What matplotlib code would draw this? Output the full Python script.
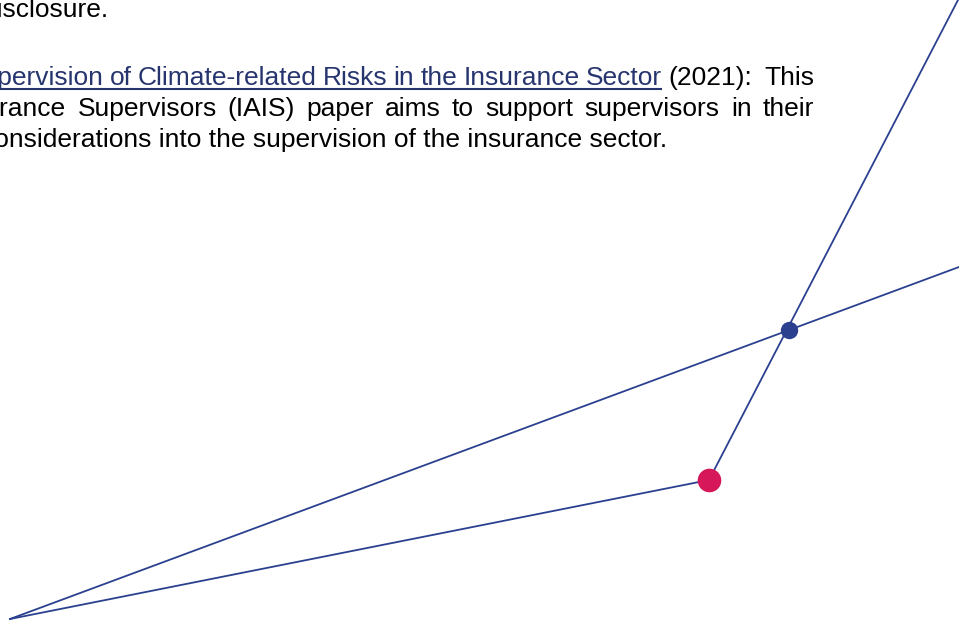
import matplotlib
matplotlib.use("Agg")
import matplotlib.pyplot as plt

# ---- data ----
node_x = [10, 709, 789]          # origin, pink node, blue node
node_y = [619, 480, 330]
edge_ends_x = [959, 958]         # where the long rays leave the frame
edge_ends_y = [267, 0]

line0_text = "disclosure."
link_words = ["Supervision", "of", "Climate-related", "Risks", "in", "the", "Insurance", "Sector"]
line1_tail = ["(2021):", "This"]
line2_words = ["Insurance", "Supervisors", "(IAIS)", "paper", "aims", "to", "support", "supervisors", "in", "their"]
line3_text = "considerations into the supervision of the insurance sector."

NAVY = "#2b4190"
LINK = "#27356f"
PINK = "#d6185a"
FS = 19
FONT = "Liberation Sans"

W, H = 959, 623
fig = plt.figure(figsize=(W / 100, H / 100), dpi=100)
ax = fig.add_axes([0, 0, 1, 1])
ax.set_xlim(0, W)
ax.set_ylim(H, 0)
ax.axis("off")

# ---- network lines ----
LW = 1.3
ax.plot([node_x[0], edge_ends_x[0]], [node_y[0], edge_ends_y[0]], color=NAVY, lw=LW, zorder=1)
ax.plot([node_x[0], node_x[1]], [node_y[0], node_y[1]], color=NAVY, lw=LW, zorder=1)
ax.plot([node_x[1], edge_ends_x[1]], [node_y[1], edge_ends_y[1]], color=NAVY, lw=LW, zorder=1)
ax.plot([node_x[2]], [node_y[2]], "o", color=NAVY, ms=12.5, mec="none", zorder=3)
ax.plot([node_x[1]], [node_y[1]], "o", color=PINK, ms=17, mec="none", zorder=3)

renderer = fig.canvas.get_renderer()

def width(s):
    t = ax.text(0, 0, s, fontsize=FS, family=FONT)
    bb = t.get_window_extent(renderer)
    t.remove()
    return bb.width

R = 814

# top fragment
ax.text(109, 17, line0_text, fontsize=FS, family=FONT, ha="right", va="baseline", color="black")

# line 1 (justified): partial "Su|pervision" starts at x0
y1 = 85
x0 = -2
words1 = link_words + line1_tail
colors1 = [LINK] * len(link_words) + ["black"] * len(line1_tail)
spaces1 = [1] * (len(link_words) - 1) + [1, 2]
vis_first = width("pervision")
tot = vis_first + sum(width(w) for w in words1[1:])
g1 = (R - x0 - tot) / sum(spaces1)
cur = R
pos1 = {}
for i in range(len(words1) - 1, -1, -1):
    wdt = width(words1[i])
    pos1[i] = cur - wdt
    cur = cur - wdt - (g1 * spaces1[i - 1] if i > 0 else 0)
for i, w in enumerate(words1):
    ax.text(pos1[i], y1, w, fontsize=FS, family=FONT, ha="left", va="baseline", color=colors1[i])
link_end = pos1[len(link_words) - 1] + width(link_words[-1])
ax.plot([-5, link_end], [y1 + 3.5, y1 + 3.5], color=LINK, lw=1.5, solid_capstyle="butt")

# line 2 (justified): partial "Insu|rance" starts at x0b
y2 = 116
x0b = 0
vis_first = width("rance")
tot = vis_first + sum(width(w) for w in line2_words[1:])
g2 = (R - x0b - tot) / (len(line2_words) - 1)
cur = R
for w in reversed(line2_words):
    wdt = width(w)
    ax.text(cur - wdt, y2, w, fontsize=FS, family=FONT, ha="left", va="baseline", color="black")
    cur = cur - wdt - g2

# line 3 (last line, natural spacing)
y3 = 147
ax.text(667, y3, line3_text, fontsize=FS, family=FONT, ha="right", va="baseline", color="black")

fig.savefig("out.png", dpi=100)
